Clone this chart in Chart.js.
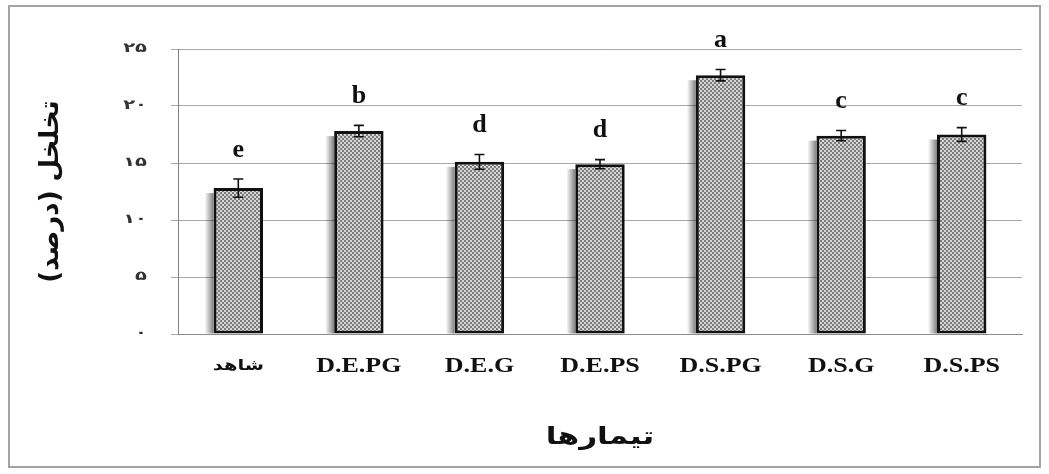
<!DOCTYPE html>
<html lang="fa">
<head>
<meta charset="utf-8">
<title>تخلخل (درصد)</title>
<script src="https://cdn.jsdelivr.net/npm/chart.js@4.4.1/dist/chart.umd.min.js"></script>
<style>
  html, body { margin: 0; padding: 0; background: #ffffff; }
  #wrap { width: 1049px; height: 474px; position: relative; }
</style>
</head>
<body>
<div id="wrap"><canvas id="chart"></canvas></div>
<script>
// Treatments, mean porosity (%), standard error and Duncan grouping letters
const categories = ['شاهد', 'D.E.PG', 'D.E.G', 'D.E.PS', 'D.S.PG', 'D.S.G', 'D.S.PS'];
const porosity = [12.8, 17.8, 15.1, 14.9, 22.7, 17.4, 17.5];
const stdErrors = [0.8, 0.5, 0.65, 0.4, 0.5, 0.45, 0.6];
const groupLetters = ['e', 'b', 'd', 'd', 'a', 'c', 'c'];
const yTickLabels = ['۰', '۵', '۱۰', '۱۵', '۲۰', '۲۵'];
const xTitle = 'تیمارها';
const yTitle = 'تخلخل (درصد)';

const persianFont = '"DejaVu Sans", sans-serif';
const latinFont = '"Liberation Serif", "DejaVu Serif", serif';

// Small checkered fill used for the bars
function makeChecker() {
  const c = document.createElement('canvas');
  c.width = 4; c.height = 4;
  const g = c.getContext('2d');
  g.fillStyle = '#d6d6d6';
  g.fillRect(0, 0, 4, 4);
  g.fillStyle = '#7c7c7c';
  g.fillRect(0, 0, 2, 2);
  g.fillRect(2, 2, 2, 2);
  return g.createPattern(c, 'repeat');
}
const checker = makeChecker();

// Draws text widened horizontally by sx around its anchor
function wideText(ctx, text, x, y, sx, font, align) {
  ctx.save();
  ctx.translate(x, y);
  ctx.scale(sx, 1);
  ctx.font = font;
  ctx.textAlign = align;
  ctx.textBaseline = 'middle';
  ctx.fillText(text, 0, 0);
  ctx.restore();
}

// Outer frame around the whole figure
const framePlugin = {
  id: 'frame',
  afterDraw(chart) {
    const ctx = chart.ctx;
    ctx.save();
    ctx.strokeStyle = '#a3a3a3';
    ctx.lineWidth = 2;
    ctx.strokeRect(9, 6, 1031, 461);
    ctx.restore();
  }
};

// Soft shadow to the left of each bar
const barShadowPlugin = {
  id: 'barShadow',
  beforeDatasetsDraw(chart) {
    const ctx = chart.ctx;
    const meta = chart.getDatasetMeta(0);
    ctx.save();
    meta.data.forEach(bar => {
      const left = bar.x - bar.width / 2;
      const w = 9;
      const grad = ctx.createLinearGradient(left - w, 0, left, 0);
      grad.addColorStop(0, 'rgba(0,0,0,0)');
      grad.addColorStop(1, 'rgba(0,0,0,0.5)');
      ctx.fillStyle = grad;
      ctx.fillRect(left - w, bar.y + 5, w, bar.base - bar.y - 5);
    });
    ctx.restore();
  }
};

// Error bars and grouping letters above the bars
const annotatePlugin = {
  id: 'annotate',
  afterDatasetsDraw(chart) {
    const ctx = chart.ctx;
    const y = chart.scales.y;
    const meta = chart.getDatasetMeta(0);
    ctx.save();
    meta.data.forEach((bar, i) => {
      const v = porosity[i], e = stdErrors[i];
      const yTop = y.getPixelForValue(v + e);
      const yBot = y.getPixelForValue(v - e);
      const cap = 5;
      ctx.strokeStyle = '#111111';
      ctx.lineWidth = 1.6;
      ctx.beginPath();
      ctx.moveTo(bar.x, yTop); ctx.lineTo(bar.x, yBot);
      ctx.moveTo(bar.x - cap, yTop); ctx.lineTo(bar.x + cap, yTop);
      ctx.moveTo(bar.x - cap, yBot); ctx.lineTo(bar.x + cap, yBot);
      ctx.stroke();

      ctx.fillStyle = '#111111';
      ctx.font = 'bold 26px ' + latinFont;
      ctx.textAlign = 'center';
      ctx.textBaseline = 'middle';
      ctx.fillText(groupLetters[i], bar.x, yTop - 29);
    });
    ctx.restore();
  }
};

// Axis tick labels and the category-axis title, set in a slightly wide face
const axisTextPlugin = {
  id: 'axisText',
  afterDraw(chart) {
    const ctx = chart.ctx;
    const { x, y } = chart.scales;
    ctx.save();
    ctx.fillStyle = '#111111';
    categories.forEach((label, i) => {
      const px = x.getPixelForTick(i);
      if (i === 0) {
        wideText(ctx, label, px, x.top + 32, 1.3, 'bold 15px ' + persianFont, 'center');
      } else {
        wideText(ctx, label, px, x.top + 33, 1.3, 'bold 20px ' + latinFont, 'center');
      }
    });
    ctx.fillStyle = '#333333';
    y.ticks.forEach((t, i) => {
      const py = y.getPixelForTick(i);
      wideText(ctx, yTickLabels[i], y.right - 31, py, 1.5, 'bold 13px ' + persianFont, 'right');
    });
    ctx.fillStyle = '#111111';
    wideText(ctx, xTitle, (x.left + x.right) / 2, 438, 1.3, 'bold 24px ' + persianFont, 'center');
    ctx.restore();
  }
};

new Chart(document.getElementById('chart'), {
  type: 'bar',
  data: {
    labels: categories,
    datasets: [{
      data: porosity,
      backgroundColor: checker,
      borderColor: '#111111',
      borderWidth: 3,
      borderSkipped: false,
      categoryPercentage: 1.0,
      barPercentage: 0.41
    }]
  },
  options: {
    responsive: true,
    maintainAspectRatio: false,
    animation: false,
    layout: { padding: { top: 49, right: 27, left: 0, bottom: 0 } },
    plugins: {
      legend: { display: false },
      tooltip: { enabled: false }
    },
    scales: {
      x: {
        grid: { display: false, drawTicks: false },
        border: { display: true, color: '#8c8c8c', width: 1 },
        ticks: { display: false },
        afterFit(scale) { scale.height = 140; }
      },
      y: {
        min: 0,
        max: 25,
        ticks: { stepSize: 5, display: false },
        grid: { color: '#a8a8a8', lineWidth: 1, tickLength: 7, drawTicks: true },
        border: { display: true, color: '#808080', width: 1 },
        title: {
          display: true,
          text: yTitle,
          color: '#111111',
          font: { family: persianFont, size: 26, weight: 'bold' },
          padding: { top: 36, bottom: 0 }
        },
        afterFit(scale) { scale.width = 178; }
      }
    }
  },
  plugins: [framePlugin, barShadowPlugin, annotatePlugin, axisTextPlugin]
});
</script>
</body>
</html>
